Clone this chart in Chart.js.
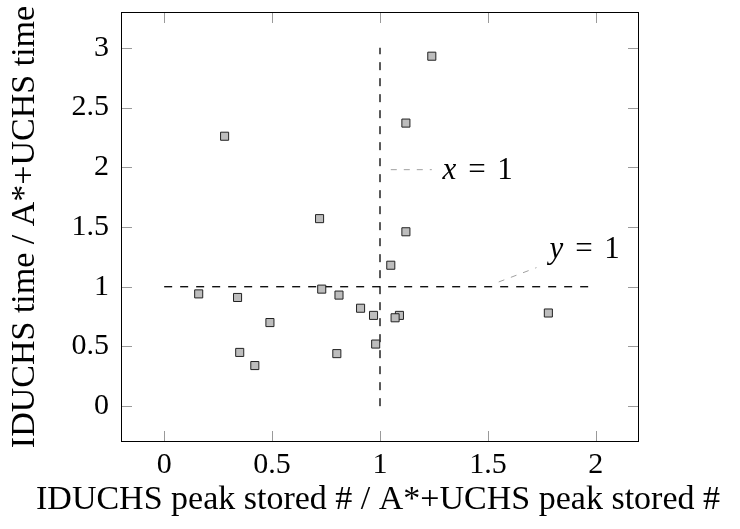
<!DOCTYPE html>
<html>
<head>
<meta charset="utf-8">
<script src="https://cdn.jsdelivr.net/npm/chart.js@4.4.1/dist/chart.umd.min.js"></script>
<style>
  html, body { margin: 0; padding: 0; background: #fff; }
</style>
</head>
<body>
<canvas id="scatterChart" width="740" height="529"></canvas>
<script>
// peak stored ratio (x) vs time ratio (y), one entry per instance
const storedRatio = [0.16, 0.28, 0.34, 0.35, 0.42, 0.49, 0.72, 0.73, 0.80, 0.81,
                     0.91, 0.97, 0.98, 1.05, 1.09, 1.07, 1.12, 1.12, 1.24, 1.78];
const timeRatio   = [0.94, 2.26, 0.91, 0.45, 0.34, 0.70, 1.57, 0.98, 0.44, 0.93,
                     0.82, 0.76, 0.52, 1.18, 0.76, 0.74, 1.46, 2.37, 2.93, 0.78];

const xTickValues = [0, 0.5, 1, 1.5, 2];
const yTickValues = [0, 0.5, 1, 1.5, 2, 2.5, 3];

const xTitle = 'IDUCHS peak stored # / A*+UCHS peak stored #';
const yTitle = 'IDUCHS time / A*+UCHS time';

// reference lines x = 1 and y = 1
const lineY1 = [{x: 0, y: 1}, {x: 2, y: 1}];
const lineX1 = [{x: 1, y: 0}, {x: 1, y: 3}];
// pins connecting the labels to the lines
const pinX1 = [{x: 1.05, y: 1.98}, {x: 1.24, y: 1.98}];
const pinY1 = [{x: 1.55, y: 1.04}, {x: 1.725, y: 1.16}];
// label anchors (left edge, vertical middle)
const labelX1 = {x: 1.29, y: 1.97, name: 'x', value: '1'};
const labelY1 = {x: 1.785, y: 1.31, name: 'y', value: '1'};

const serif = '"Liberation Serif", "DejaVu Serif", serif';

const points = storedRatio.map((v, i) => ({x: v, y: timeRatio[i]}));

// box around the plot area with inward ticks on all four sides,
// the line labels and the axis titles (drawn here so they are not squeezed)
const framePlugin = {
    id: 'frame',
    afterDraw(chart) {
        const {ctx, chartArea: a, scales} = chart;
        const xs = scales.x, ys = scales.y;
        const tick = 11;
        ctx.save();
        ctx.strokeStyle = '#9a9a9a';
        ctx.lineWidth = 1;
        ctx.beginPath();
        xTickValues.forEach(v => {
            const px = Math.round(xs.getPixelForValue(v)) + 0.5;
            ctx.moveTo(px, a.bottom); ctx.lineTo(px, a.bottom - tick);
            ctx.moveTo(px, a.top); ctx.lineTo(px, a.top + tick);
        });
        yTickValues.forEach(v => {
            const py = Math.round(ys.getPixelForValue(v)) + 0.5;
            ctx.moveTo(a.left, py); ctx.lineTo(a.left + tick, py);
            ctx.moveTo(a.right, py); ctx.lineTo(a.right - tick, py);
        });
        ctx.stroke();

        ctx.strokeStyle = '#000';
        ctx.strokeRect(a.left + 0.5, a.top + 0.5, a.right - a.left - 1, a.bottom - a.top - 1);

        ctx.fillStyle = '#000';
        ctx.textBaseline = 'middle';
        ctx.textAlign = 'left';
        [labelX1, labelY1].forEach(l => {
            const px = xs.getPixelForValue(l.x);
            const py = ys.getPixelForValue(l.y);
            ctx.font = 'italic 31px ' + serif;
            ctx.fillText(l.name, px, py);
            const eqX = px + ctx.measureText(l.name).width + 12;
            ctx.font = '31px ' + serif;
            ctx.fillText('=', eqX, py);
            ctx.fillText(l.value, eqX + 29, py);
        });

        ctx.font = '34px ' + serif;
        ctx.textAlign = 'center';
        ctx.fillText(xTitle, (a.left + a.right) / 2 - 2, 500);
        ctx.translate(25, (a.top + a.bottom) / 2);
        ctx.rotate(-Math.PI / 2);
        ctx.fillText(yTitle, 0, 0);
        ctx.restore();
    }
};

const ctx = document.getElementById('scatterChart').getContext('2d');
const chart = new Chart(ctx, {
    type: 'scatter',
    data: {
        datasets: [
            {
                data: points,
                pointStyle: 'rect',
                pointRadius: 5.7,
                pointBackgroundColor: '#bdbdbd',
                pointBorderColor: '#222',
                pointBorderWidth: 1,
                order: 0
            },
            {
                data: lineY1, showLine: true, pointRadius: 0,
                borderColor: '#000', borderWidth: 1.3, borderDash: [8, 8], order: 1
            },
            {
                data: lineX1, showLine: true, pointRadius: 0,
                borderColor: '#000', borderWidth: 1.3, borderDash: [8, 8], order: 1
            },
            {
                data: pinX1, showLine: true, pointRadius: 0,
                borderColor: '#a0a0a0', borderWidth: 1, borderDash: [6, 7], order: 2
            },
            {
                data: pinY1, showLine: true, pointRadius: 0,
                borderColor: '#a0a0a0', borderWidth: 1, borderDash: [6, 7], order: 2
            }
        ]
    },
    options: {
        responsive: false,
        animation: false,
        layout: { padding: { top: 12, right: 101, left: 0, bottom: 0 } },
        plugins: { legend: { display: false }, tooltip: { enabled: false } },
        scales: {
            x: {
                type: 'linear',
                min: -0.2,
                max: 2.2,
                afterBuildTicks: s => { s.ticks = xTickValues.map(v => ({value: v})); },
                afterFit: s => { s.height = 87; s.paddingLeft = 0; s.paddingRight = 0; },
                grid: { display: false, drawTicks: false },
                border: { display: false },
                ticks: {
                    padding: 5,
                    color: '#000',
                    maxRotation: 0,
                    font: { family: serif, size: 30 },
                    callback: v => String(v)
                }
            },
            y: {
                type: 'linear',
                min: -0.3,
                max: 3.3,
                afterBuildTicks: s => { s.ticks = yTickValues.map(v => ({value: v})); },
                afterFit: s => { s.width = 121; s.paddingTop = 0; s.paddingBottom = 0; },
                grid: { display: false, drawTicks: false },
                border: { display: false },
                ticks: {
                    padding: 12,
                    color: '#000',
                    font: { family: serif, size: 30 },
                    callback: v => String(v)
                }
            }
        }
    },
    plugins: [framePlugin]
});
</script>
</body>
</html>
